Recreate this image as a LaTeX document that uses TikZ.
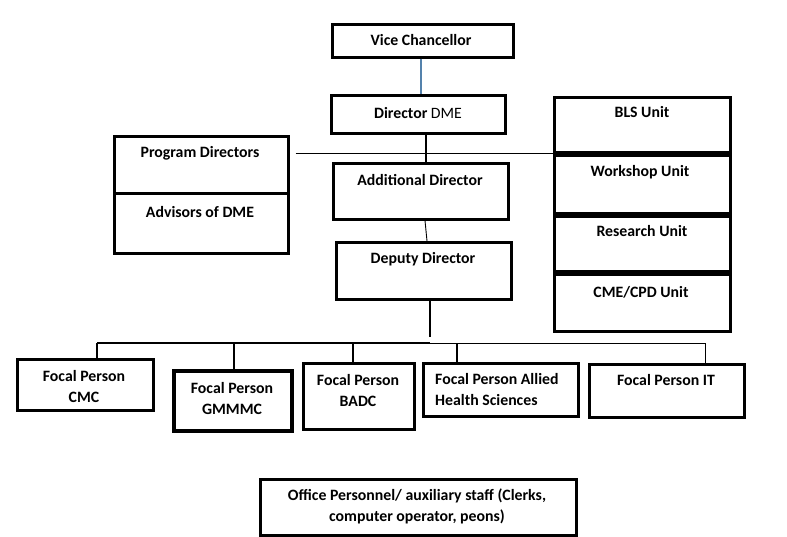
\documentclass[tikz,border=0pt]{standalone}
\usepackage{fontspec}
\setmainfont{Carlito}
\begin{document}
\begin{tikzpicture}[x=1pt,y=-1pt,
  box/.style={draw=black,line width=2.6pt,rectangle,inner sep=0pt,anchor=north west},
  thickbox/.style={box,line width=3.6pt},
  txt/.style={font=\fontsize{15.8}{21}\selectfont\bfseries,align=center,inner sep=0pt},
  conn/.style={draw=black,line width=1.2pt},
  thin/.style={draw=black,line width=0.9pt}]
\useasboundingbox (0,0) rectangle (787,537);
\fill[white] (0,0) rectangle (787,537);
% boxes
\node[box,minimum width=181pt,minimum height=33pt] (vc) at (331,23) {};
\node[box,minimum width=174pt,minimum height=38pt] (dir) at (330,94) {};
\node[box,minimum width=174pt,minimum height=57pt] (pd) at (113,135) {};
\node[box,minimum width=174pt,minimum height=60pt] (adv) at (113,192) {};
\node[box,minimum width=175pt,minimum height=56pt] (add) at (332,162) {};
\node[box,minimum width=175pt,minimum height=57pt] (dep) at (335,241) {};
\node[box,minimum width=176pt,minimum height=55pt] (bls) at (553,96) {};
\node[box,minimum width=176pt,minimum height=58pt] (ws) at (553,154) {};
\node[box,minimum width=176pt,minimum height=55pt] (res) at (553,215) {};
\node[box,minimum width=176pt,minimum height=57pt] (cme) at (553,273) {};
\node[box,minimum width=136pt,minimum height=51pt] (cmc) at (16,358) {};
\node[thickbox,minimum width=118pt,minimum height=60pt] (gm) at (172,369) {};
\node[box,minimum width=111pt,minimum height=66pt] (badc) at (302,362) {};
\node[box,minimum width=155pt,minimum height=53pt] (ahs) at (422,362) {};
\node[box,minimum width=155pt,minimum height=53pt] (it) at (588,363) {};
\node[box,minimum width=316pt,minimum height=56pt] (off) at (259,478) {};
% texts
\node[txt] (tvc) at (421,40) {Vice Chancellor};
\node[txt] (tdir) at (418,113) {Director \mdseries DME};
\node[txt] (tpd) at (200,153) {Program Directors};
\node[txt] (tadv) at (200,212) {Advisors of DME};
\node[txt] (tadd) at (420,180) {Additional Director};
\node[txt] (tdep) at (423,259) {Deputy Director};
\node[txt] (tbls) at (642,112) {BLS Unit};
\node[txt] (tws) at (640,172) {Workshop Unit};
\node[txt] (tres) at (642,231) {Research Unit};
\node[txt] (tcme) at (641,292) {CME/CPD Unit};
\node[txt] (tcmc) at (84,387) {Focal Person\\CMC};
\node[txt] (tgm) at (232,399) {Focal Person\\GMMMC};
\node[txt] (tbadc) at (358,391) {Focal Person\\BADC};
\node[txt,align=left,anchor=west] (tahs) at (435,390) {Focal Person Allied\\Health Sciences};
\node[txt] (tit) at (666,380) {Focal Person IT};
\node[txt] (toff) at (417,506) {Office Personnel/ auxiliary staff (Clerks,\\computer operator, peons)};
% connectors
\draw[line width=1.3pt,draw={rgb,255:red,84;green,130;blue,172}] (vc.south -| 421,0) -- (dir.north -| 421,0);
\draw[conn] (dir.south -| 426,0) -- (add.north -| 426,0);
\draw[thin] (pd.east |- 0,153) ++(6,0) -- (ws.west |- 0,153);
\draw[thin] (add.south -| 425,0) -- (dep.north -| 427,0);
\coordinate (bus) at (430,337);
\draw[conn] (dep.south -| 430,0) -- (bus);
\draw[conn] (97,343) -- (430,343);
\draw[thin] (430,343) -- (705,343);
\draw[conn] (97,343) -- (cmc.north -| 97,0);
\draw[conn] (234,343) -- (gm.north -| 234,0);
\draw[conn] (353,343) -- (badc.north -| 353,0);
\draw[conn] (457,343) -- (ahs.north -| 457,0);
\draw[thin] (705,343) -- (it.north -| 705,0);
\end{tikzpicture}
\end{document}
